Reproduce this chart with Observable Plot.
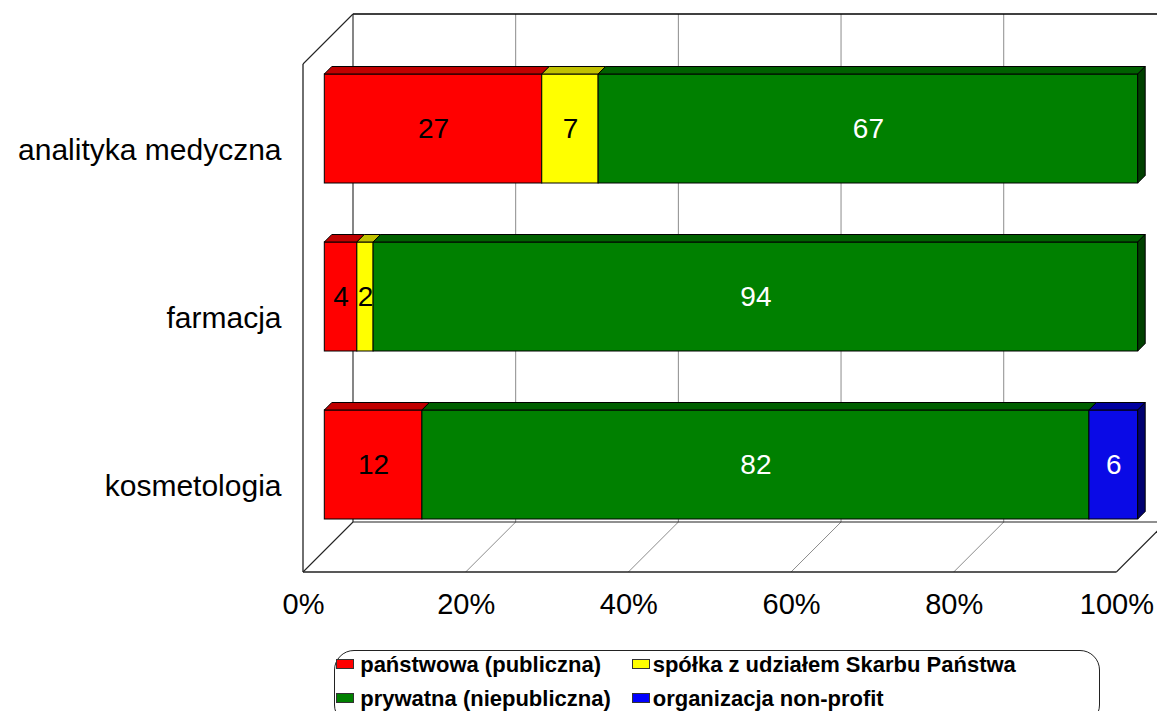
<!DOCTYPE html>
<html>
<head>
<meta charset="utf-8">
<script src="https://cdn.jsdelivr.net/npm/d3@7"></script>
<script src="https://cdn.jsdelivr.net/npm/@observablehq/plot@0.6"></script>
<style>
  html, body { margin: 0; padding: 0; background: #fff; overflow: hidden; }
  body { font-family: Arial, "Liberation Sans", sans-serif; width: 1157px; }
  #chart svg { display: block; max-width: none; }
  #legend {
    margin-left: 334px; width: 766px; height: 75px; box-sizing: border-box;
    border: 1.5px solid #222; border-radius: 20px;
    font: bold 22px Arial, "Liberation Sans", sans-serif; color: #000;
  }
  #legend .rows { margin-top: -3px; padding-left: 1.2px; }
  #legend .row { height: 34px; line-height: 34px; white-space: nowrap; }
  #legend .item { display: inline-block; }
  #legend .item.c0 { width: 296px; }
  #legend .sw { display: inline-block; width: 16px; height: 8px; border: 1px solid #333;
    vertical-align: baseline; margin-bottom: 3px; }
  #legend .c0 .sw { margin-right: 6px; }
  #legend .c1 .sw { margin-right: 2.5px; }
</style>
</head>
<body>
<div id="chart"></div>
<div id="legend"></div>
<script>
// ---- data ----
const categories = ["analityka medyczna", "farmacja", "kosmetologia"];
const series = ["państwowa (publiczna)", "spółka z udziałem Skarbu Państwa", "prywatna (niepubliczna)", "organizacja non-profit"];
const valuesPanstwowa = [27, 4, 12];
const valuesSpolka    = [7, 2, 0];
const valuesPrywatna  = [67, 94, 82];
const valuesNonprofit = [0, 0, 6];
const xTicks = [0, 0.2, 0.4, 0.6, 0.8, 1];

// ---- styles ----
const colors     = ["#ff0000", "#ffff00", "#008000", "#0a0ae6"];
const topColors  = ["#c00000", "#c0c000", "#006000", "#0000a0"];
const sideColors = ["#800000", "#808000", "#004000", "#000070"];
const labelColors = ["black", "black", "white", "white"];

const seriesValues = [valuesPanstwowa, valuesSpolka, valuesPrywatna, valuesNonprofit];
const rows = [];
categories.forEach((c, i) => series.forEach((s, j) => {
  const v = seriesValues[j][i];
  if (v > 0) rows.push({category: c, series: s, value: v, si: j});
}));

// geometry of the pseudo-3D box (pixels)
const W = 1157, H = 650;
const depth = 50, front = 21.3, back = depth - front, barDepth = 7.5;

function bw(scale) {
  return typeof scale.bandwidth === "function" ? scale.bandwidth() : scale.bandwidth;
}
function seg(g, a, b, stroke, sw) {
  g.append("line").attr("x1", a[0]).attr("y1", a[1]).attr("x2", b[0]).attr("y2", b[1])
    .attr("stroke", stroke).attr("stroke-width", sw);
}

// walls, floor and gridlines
function walls(index, scales, values, dims) {
  const x = scales.x;
  const top = dims.marginTop, bot = dims.height - dims.marginBottom;
  const B = (px, py) => [px + back, py - back];
  const F = (px, py) => [px - front, py + front];
  const g = d3.create("svg:g").attr("fill", "none");
  const x0 = x(0), x1 = x(1);
  for (const t of xTicks) {
    if (t <= 0 || t >= 1) continue;
    seg(g, B(x(t), top), B(x(t), bot), "#8c8c8c", 1);
    seg(g, F(x(t), bot), B(x(t), bot), "#8c8c8c", 1);
  }
  // back wall
  seg(g, B(x0, top), B(x1, top), "#000", 1.4);
  seg(g, B(x0, top), B(x0, bot), "#222", 1.1);
  seg(g, B(x0, bot), B(x1, bot), "#222", 1.1);
  seg(g, B(x1, top), B(x1, bot), "#222", 1.1);
  // floor
  seg(g, F(x0, bot), F(x1, bot), "#222", 1.3);
  seg(g, F(x0, bot), B(x0, bot), "#222", 1.1);
  seg(g, F(x1, bot), B(x1, bot), "#222", 1.1);
  // left wall
  seg(g, F(x0, top), F(x0, bot), "#222", 1.3);
  seg(g, F(x0, top), B(x0, top), "#222", 1.1);
  return g.node();
}

// top and side faces of the stacked bars
function faces(index, scales) {
  const x = scales.x, y = scales.y, h = bw(y), d = barDepth;
  const g = d3.create("svg:g").attr("stroke", "#000").attr("stroke-width", 1).attr("stroke-linejoin", "round");
  categories.forEach((c, i) => {
    const total = d3.sum(seriesValues, v => v[i]);
    const yt = y(c);
    let acc = 0, last = null;
    seriesValues.forEach((vals, j) => {
      const v = vals[i];
      if (!(v > 0)) return;
      const a = x(acc / total), b = x((acc + v) / total);
      acc += v;
      g.append("polygon")
        .attr("points", [[a, yt], [b, yt], [b + d, yt - d], [a + d, yt - d]].map(p => p.join(",")).join(" "))
        .attr("fill", topColors[j]);
      last = {b, j};
    });
    if (last) {
      const b = last.b;
      g.append("polygon")
        .attr("points", [[b, yt], [b + d, yt - d], [b + d, yt + h - d], [b, yt + h]].map(p => p.join(",")).join(" "))
        .attr("fill", sideColors[last.j]);
    }
  });
  return g.node();
}

const stackOpts = {offset: "normalize", x: "value", y: "category"};

const chart = Plot.plot({
  width: W,
  height: H,
  marginLeft: 324.3,
  marginRight: W - 1137.7,
  marginTop: 42.7,
  marginBottom: H - 550.7,
  style: {fontFamily: "Arial, 'Liberation Sans', sans-serif", fontSize: "28px", color: "#000", background: "#fff"},
  x: {domain: [0, 1]},
  y: {domain: categories, paddingInner: 0.349, paddingOuter: 0.1775, align: 0.5},
  color: {domain: series, range: colors},
  marks: [
    walls,
    Plot.barX(rows, Plot.stackX({...stackOpts, fill: "series", stroke: "#000", strokeWidth: 1})),
    faces,
    Plot.text(rows, Plot.stackX({...stackOpts,
      text: d => labelColors[d.si] === "black" ? String(d.value) : null,
      fill: "black", fontSize: 28})),
    Plot.text(rows, Plot.stackX({...stackOpts,
      text: d => labelColors[d.si] === "white" ? String(d.value) : null,
      fill: "white", fontSize: 28})),
    Plot.axisX({ticks: xTicks, tickFormat: d3.format(".0%"), tickSize: 0, tickPadding: 21,
      dx: -front, dy: front, fontSize: 29, label: null}),
    Plot.axisY({tickSize: 0, tickPadding: 22, dx: -front, dy: front, fontSize: 30, label: null})
  ]
});
document.getElementById("chart").appendChild(chart);

// ---- legend (HTML, below the SVG) ----
const legend = document.getElementById("legend");
const rowsDiv = document.createElement("div");
rowsDiv.className = "rows";
for (let r = 0; r < 2; r++) {
  const row = document.createElement("div");
  row.className = "row";
  for (let c = 0; c < 2; c++) {
    const k = r * 2 + c;
    const item = document.createElement("span");
    item.className = "item c" + c;
    const sw = document.createElement("span");
    sw.className = "sw";
    sw.style.background = k === 3 ? "#0000ff" : colors[k];
    item.appendChild(sw);
    item.appendChild(document.createTextNode(series[k]));
    row.appendChild(item);
  }
  rowsDiv.appendChild(row);
}
legend.appendChild(rowsDiv);
</script>
</body>
</html>
